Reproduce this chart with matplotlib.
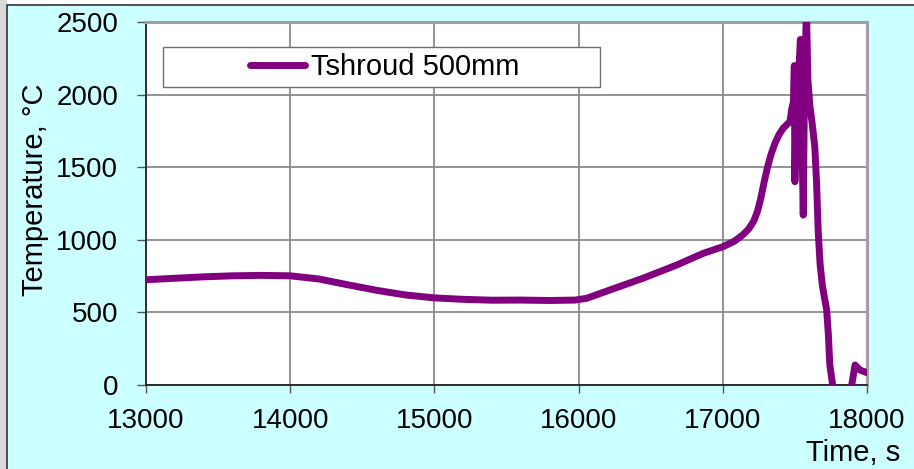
import matplotlib

matplotlib.use("Agg")
import matplotlib.pyplot as plt
from matplotlib.patches import Rectangle

# values
time_s = [
    13000, 13200, 13400, 13600, 13800, 14000, 14200, 14400, 14600, 14800,
    15000, 15200, 15400, 15600, 15800, 15977, 16056, 16216, 16446, 16680,
    16865, 17000, 17080, 17140, 17180, 17215, 17240, 17262, 17285, 17310,
    17335, 17362, 17390, 17420, 17446, 17466, 17478, 17490, 17496, 17500,
    17508, 17520, 17538, 17545, 17558, 17566, 17580, 17590, 17604, 17620,
    17638, 17650, 17662, 17675, 17690, 17705, 17720, 17732, 17742, 17770,
    17800, 17870, 17894, 17917, 17951, 18000,
]
temp_c = [
    725, 735, 745, 752, 755, 752, 730, 690, 652, 620,
    600, 590, 584, 585, 582, 585, 597, 654, 735, 826,
    907, 952, 990, 1035, 1075, 1130, 1195, 1280, 1390, 1500,
    1590, 1665, 1725, 1770, 1795, 1815, 1900, 1950, 2200, 1400,
    1950, 2000, 2380, 1900, 1170, 2000, 2600, 2100, 1920, 1800,
    1640, 1400, 1050, 830, 690, 600, 520, 350, 140, -60,
    -150, -150, 0, 138, 103, 85,
]
series_name = "Tshroud 500mm"
x_ticks = [13000, 14000, 15000, 16000, 17000, 18000]
y_ticks = [0, 500, 1000, 1500, 2000, 2500]

plt.rcParams["font.family"] = ["Liberation Sans", "DejaVu Sans"]

W, H = 914, 469
fig = plt.figure(figsize=(W / 100, H / 100), dpi=100, facecolor="white")

# outer frame: grey strip on the left, cyan panel with a dark border
fig.patches.append(Rectangle((0, 0), 6.5 / W, 1, transform=fig.transFigure,
                             facecolor="#d9d9d9", edgecolor="none", zorder=-2))
fig.patches.append(Rectangle((6.5 / W, -0.01), 1.0, 1 - 5.5 / H + 0.01,
                             transform=fig.transFigure, facecolor="#ccffff",
                             edgecolor="#333333", linewidth=1.2, zorder=-1))

ax = fig.add_axes([146 / W, 1 - 385 / H, 721 / W, 363 / H])
ax.set_facecolor("white")

ax.plot(time_s, temp_c, color="#800080", linewidth=5.0,
        solid_joinstyle="round", solid_capstyle="round", label=series_name,
        zorder=3)

ax.set_xlim(13000, 18000)
ax.set_ylim(0, 2500)
ax.set_xticks(x_ticks)
ax.set_yticks(y_ticks)
ax.grid(True, color="#8a8a8a", linewidth=1.3, zorder=1)
ax.set_axisbelow(True)

ax.tick_params(axis="x", direction="out", length=6, width=1, color="#555555",
               labelsize=20, pad=10.5)
ax.tick_params(axis="y", direction="out", length=6.5, width=1, color="#555555",
               labelsize=20, pad=13.5)

for side in ("left", "bottom"):
    ax.spines[side].set_color("#222222")
    ax.spines[side].set_linewidth(1.3)
for side in ("top", "right"):
    ax.spines[side].set_color("#a0a0a0")
    ax.spines[side].set_linewidth(2.2)

# legend: white box with grey border, entry centred inside it
box_x, box_y, box_w, box_h = 0.0236, 0.821, 0.606, 0.110
ax.add_patch(Rectangle((box_x, box_y), box_w, box_h, transform=ax.transAxes,
                       facecolor="white", edgecolor="#707070", linewidth=1,
                       zorder=4))
ax.legend(loc="center", bbox_to_anchor=(box_x + box_w / 2 + 0.004, box_y + box_h / 2),
          frameon=False, fontsize=21, handlelength=1.9, handletextpad=0.2,
          borderpad=0, borderaxespad=0).set_zorder(5)

fig.text(35 / W, 1 - 189.5 / H, "Temperature, °C", rotation=90, fontsize=21,
         ha="center", va="center")
fig.text(853 / W, 1 - 453 / H, "Time, s", fontsize=21, ha="center", va="center")

fig.savefig("out.png", dpi=100, facecolor=fig.get_facecolor())
